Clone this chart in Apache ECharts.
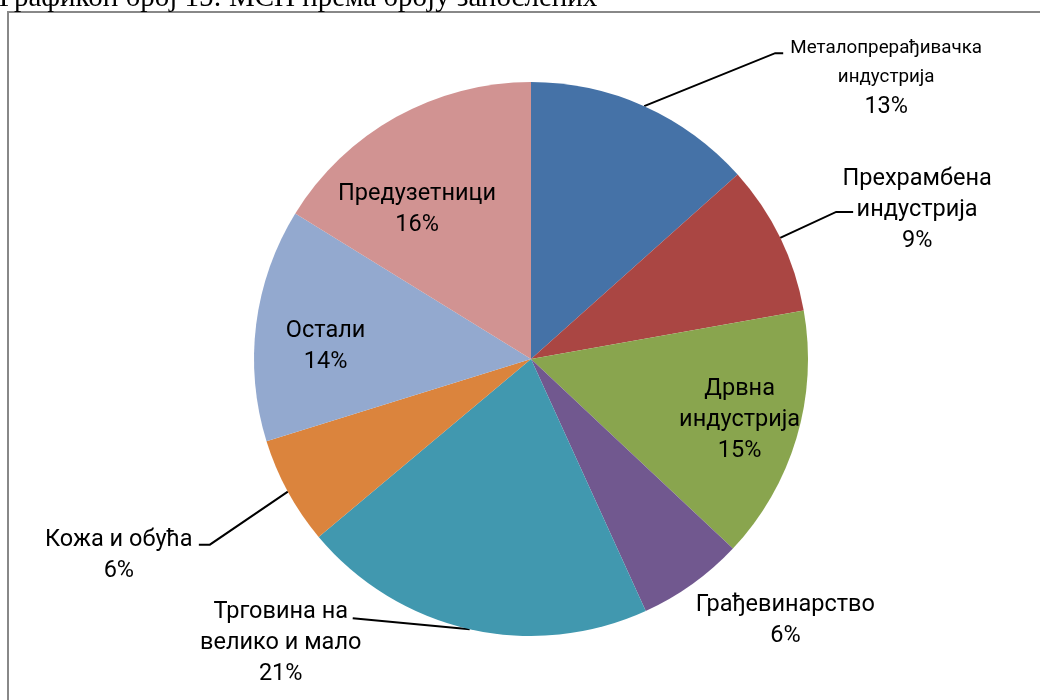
<!DOCTYPE html>
<html><head><meta charset="utf-8">
<script src="https://cdn.jsdelivr.net/npm/echarts@6/dist/echarts.min.js"></script>
<style>html,body{margin:0;padding:0;background:#fff}#c{width:1040px;height:700px}</style>
</head><body><div id="c"></div>
<script>
// ---- data ----
const categories = ['Металопрерађивачка индустрија', 'Прехрамбена индустрија', 'Дрвна индустрија', 'Грађевинарство', 'Трговина на велико и мало', 'Кожа и обућа', 'Остали', 'Предузетници'];
const labelText = [['Металопрерађивачка', 'индустрија'], ['Прехрамбена', 'индустрија'], ['Дрвна', 'индустрија'], ['Грађевинарство'], ['Трговина на', 'велико и мало'], ['Кожа и обућа'], ['Остали'], ['Предузетници']];
const shares = [13.4, 8.8, 14.8, 6.2, 20.7, 6.3, 13.6, 16.2];
const colors = ['#4572A7', '#AA4643', '#89A54E', '#71588F', '#4198AF', '#DB843D', '#93A9CF', '#D19392'];
const titleText = 'Графикон број 15: МСП према броју запослених';

// ---- label placement (offsets relative to library-computed anchor points) ----
const FONT = 'Roboto';
const place = [
  {type: 'out', elbow: [131, -53], end: [139, -53], label: [242, -28], small: true},
  {type: 'out', elbow: [56, -26], end: [73, -26], label: [137, -28]},
  {type: 'in', off: [73, 21]},
  {type: 'out', noLine: true, label: [93, 37]},
  {type: 'out', elbow: [-117, -11], end: [-117, -11], label: [-189, 14]},
  {type: 'out', elbow: [-78, 53], end: [-89, 53], label: [-169, 64]},
  {type: 'in', off: [-65, 5]},
  {type: 'in', off: [-45, -26]}
];

const data = categories.map((name, i) => ({
  name: name,
  value: shares[i],
  itemStyle: {color: colors[i]},
  label: {position: place[i].type === 'in' ? 'inside' : 'outside'},
  labelLine: {show: place[i].type === 'out'}
}));

const chart = echarts.init(document.getElementById('c'), null, {renderer: 'canvas'});
chart.setOption({
  animation: false,
  backgroundColor: '#fff',
  graphic: [
    {type: 'rect', shape: {x: 8, y: 12, width: 1100, height: 800}, style: {fill: 'none', stroke: '#888888', lineWidth: 2}, z: 0},
    {type: 'text', x: -1, y: 13, style: {text: titleText, font: '29px "Liberation Serif"', fill: '#000', textVerticalAlign: 'bottom'}, z: 0}
  ],
  series: [{
    type: 'pie',
    center: [531, 359],
    radius: [0, 277],
    startAngle: 90,
    clockwise: true,
    avoidLabelOverlap: false,
    data: data,
    itemStyle: {borderWidth: 0},
    emphasis: {disabled: true},
    label: {
      color: '#000',
      fontFamily: FONT,
      fontSize: 23.5,
      lineHeight: 31,
      align: 'center',
      formatter: function (p) {
        const i = p.dataIndex;
        const nameStyle = place[i].small ? 's' : 'n';
        const lines = labelText[i].map(t => '{' + nameStyle + '|' + t + '}');
        lines.push('{n|' + Math.round(shares[i]) + '%}');
        return lines.join('\n');
      },
      rich: {
        n: {fontFamily: FONT, fontSize: 23.5, lineHeight: 31, color: '#000', align: 'center'},
        s: {fontFamily: FONT, fontSize: 18.8, lineHeight: 29, color: '#000', align: 'center'}
      }
    },
    labelLine: {lineStyle: {color: '#000', width: 2}},
    labelLayout: function (params) {
      const i = params.dataIndex;
      const cfg = place[i];
      const r = params.labelRect;
      if (cfg.type === 'in') {
        return {
          x: r.x + r.width / 2 + cfg.off[0],
          y: r.y + r.height / 2 + cfg.off[1],
          align: 'center', verticalAlign: 'middle'
        };
      }
      const e = params.labelLinePoints[0];
      const out = {
        x: e[0] + cfg.label[0],
        y: e[1] + cfg.label[1],
        align: 'center', verticalAlign: 'middle'
      };
      if (cfg.noLine) {
        out.labelLinePoints = [[e[0], e[1]], [e[0], e[1]], [e[0], e[1]]];
      } else {
        out.labelLinePoints = [
          [e[0], e[1]],
          [e[0] + cfg.elbow[0], e[1] + cfg.elbow[1]],
          [e[0] + cfg.end[0], e[1] + cfg.end[1]]
        ];
      }
      return out;
    }
  }]
});
</script>
</body></html>
